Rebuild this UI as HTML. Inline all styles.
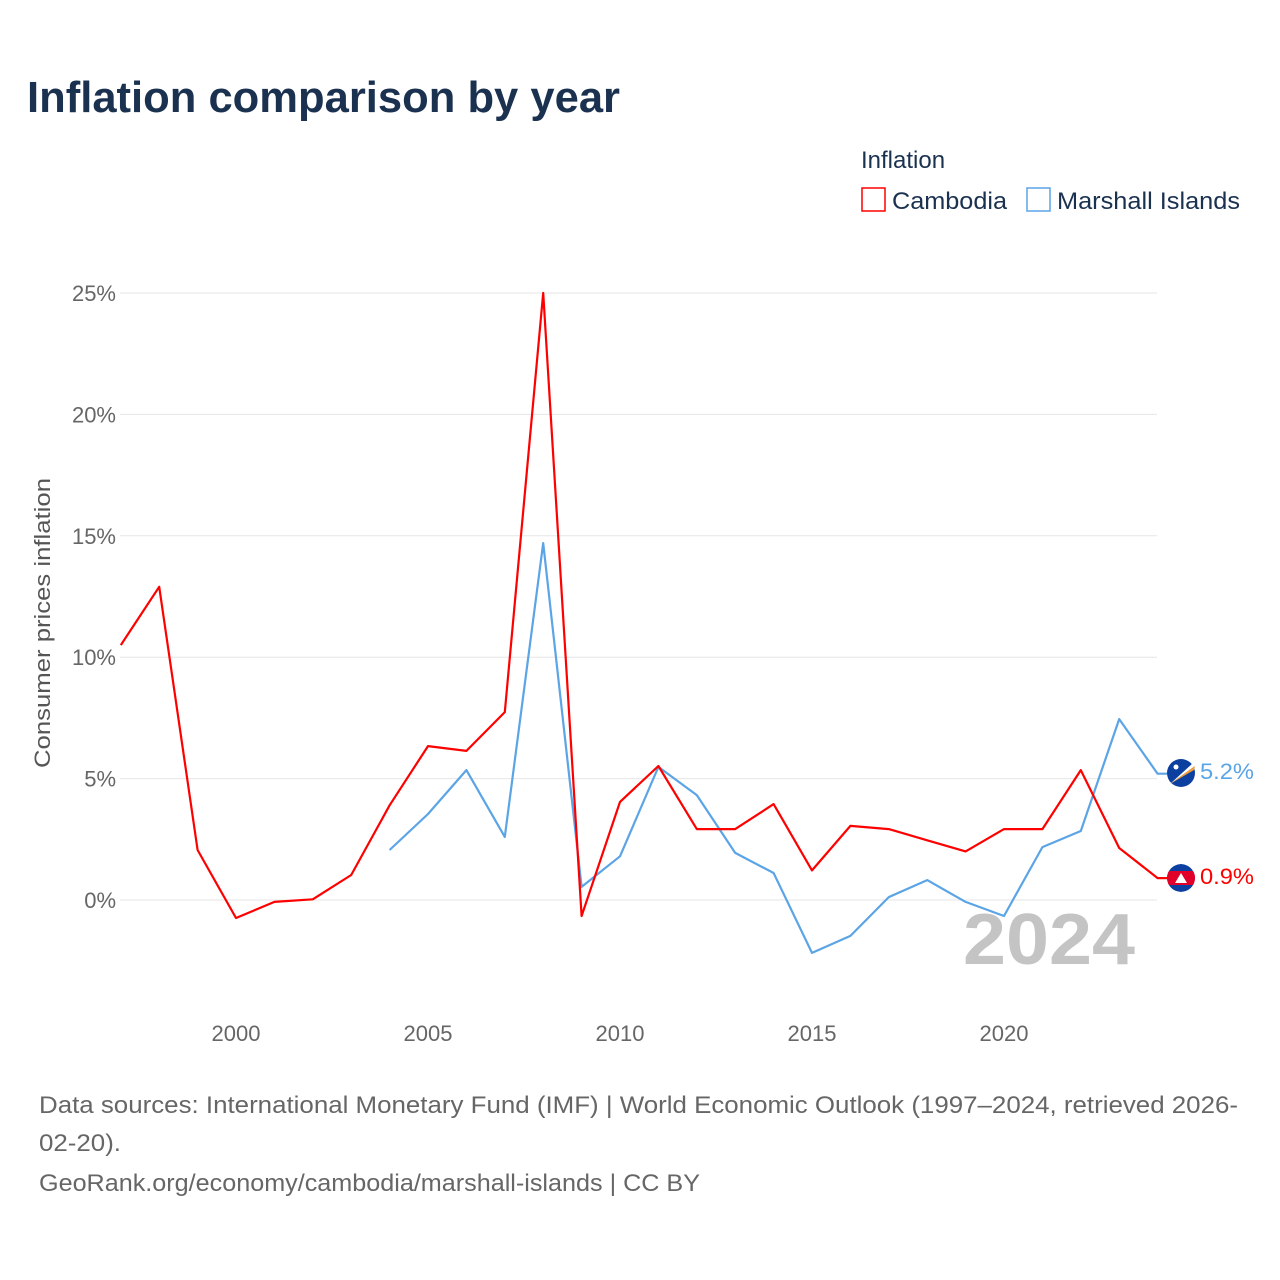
<!DOCTYPE html>
<html><head><meta charset="utf-8"><style>
body{margin:0;background:#fff;font-family:"Liberation Sans",sans-serif;}
#wrap{position:relative;width:1280px;height:1280px;overflow:hidden;}
</style></head><body>
<div id="wrap">
<svg id="svg" width="1280" height="1280" xmlns="http://www.w3.org/2000/svg">
<defs><clipPath id="kh"><circle cx="1181" cy="878" r="14"/></clipPath></defs>
<text x="27" y="112" font-size="44" font-weight="bold" fill="#1a3150" textLength="593" lengthAdjust="spacingAndGlyphs">Inflation comparison by year</text>
<text x="861" y="168" font-size="24" fill="#1a3150">Inflation</text>
<g><rect x="862" y="188" width="23" height="23" fill="none" stroke="#ff0000" stroke-width="1.5"/><text x="892" y="209" font-size="24" fill="#1a3150" textLength="115" lengthAdjust="spacingAndGlyphs">Cambodia</text></g>
<g><rect x="1027" y="188" width="23" height="23" fill="none" stroke="#5ba4e6" stroke-width="1.5"/><text x="1057" y="209" font-size="24" fill="#1a3150" textLength="183" lengthAdjust="spacingAndGlyphs">Marshall Islands</text></g>
<text transform="translate(50,623) rotate(-90)" text-anchor="middle" font-size="22" fill="#555" textLength="290" lengthAdjust="spacingAndGlyphs">Consumer prices inflation</text>
<g id="grid"></g><g id="ticks"></g><g id="lines"></g>
<text x="963" y="964" font-size="72" font-weight="bold" fill="#c4c4c4" textLength="172" lengthAdjust="spacingAndGlyphs">2024</text>
<g><circle cx="1181" cy="773" r="14" fill="#0b40a0"/><path d="M1170 784 L1193 763 L1195 766 Z" fill="#fff"/><path d="M1170 784 L1195 766 L1194 770 Z" fill="#f39c34"/><circle cx="1176" cy="767" r="2.5" fill="#fff"/></g>
<g clip-path="url(#kh)"><circle cx="1181" cy="878" r="14" fill="#0b3fa0"/><rect x="1167" y="871" width="28" height="14" fill="#e0002a"/><path d="M1175 883 L1181 873 L1187 883 Z" fill="#fff"/></g>
<text x="1200" y="779" font-size="22" fill="#5ba4e6" textLength="54" lengthAdjust="spacingAndGlyphs">5.2%</text>
<text x="1200" y="884" font-size="22" fill="#ff0000" textLength="54" lengthAdjust="spacingAndGlyphs">0.9%</text>
<g font-size="24" fill="#666">
<text x="39" y="1113" textLength="1199" lengthAdjust="spacingAndGlyphs">Data sources: International Monetary Fund (IMF) | World Economic Outlook (1997–2024, retrieved 2026-</text>
<text x="39" y="1151" textLength="82" lengthAdjust="spacingAndGlyphs">02-20).</text>
<text x="39" y="1191" textLength="661" lengthAdjust="spacingAndGlyphs">GeoRank.org/economy/cambodia/marshall-islands | CC BY</text>
</g>
</svg></div>
<script>
const years=[1997,1998,1999,2000,2001,2002,2003,2004,2005,2006,2007,2008,2009,2010,2011,2012,2013,2014,2015,2016,2017,2018,2019,2020,2021,2022,2023,2024];
const cambodia=[10.5,12.9,2.06,-0.74,-0.08,0.03,1.03,3.9,6.34,6.14,7.74,25.0,-0.66,4.04,5.52,2.92,2.92,3.95,1.22,3.05,2.92,2.46,2.0,2.92,2.92,5.35,2.14,0.9];
const marshall=[null,null,null,null,null,null,null,2.06,3.54,5.35,2.6,14.7,0.54,1.8,5.48,4.32,1.94,1.11,-2.18,-1.48,0.12,0.82,-0.08,-0.66,2.18,2.84,7.45,5.2];
const yTicks=[0,5,10,15,20,25];
const xTicks=[2000,2005,2010,2015,2020];
const X=y=>120.8+(y-1997)*38.4;
const Y=v=>900-v*24.28;
const NS="http://www.w3.org/2000/svg";
function mk(t,a,p){const e=document.createElementNS(NS,t);for(const k in a)e.setAttribute(k,a[k]);p.appendChild(e);return e;}
const grid=document.getElementById('grid'),ticks=document.getElementById('ticks'),lines=document.getElementById('lines');
yTicks.forEach(v=>{
 const l=mk('line',{x1:120,x2:1157,y1:Y(v),y2:Y(v),stroke:'#e6e6e6','stroke-width':1},grid);
 
 
 const t=mk('text',{x:116,y:Y(v)+8,'text-anchor':'end','font-size':22,fill:'#666'},ticks);t.textContent=v+'%';
 
 
});
xTicks.forEach(y=>{
 const t=mk('text',{x:X(y),y:1041,'text-anchor':'middle','font-size':22,fill:'#666'},ticks);t.textContent=y;
 
 
});
function path(vals,color,name){
 let d='';vals.forEach((v,i)=>{if(v===null)return;d+=(d?'L':'M')+X(years[i]).toFixed(1)+' '+Y(v).toFixed(1);});
 const last=vals[vals.length-1];d+='L1167 '+Y(last).toFixed(1);
 const p=mk('path',{d:d,fill:'none',stroke:color,'stroke-width':2.2,'stroke-linejoin':'round'},lines);
 
 
}
path(marshall,'#5ba4e6','line-marshall-islands');
path(cambodia,'#ff0000','line-cambodia');
</script>
</body></html>
